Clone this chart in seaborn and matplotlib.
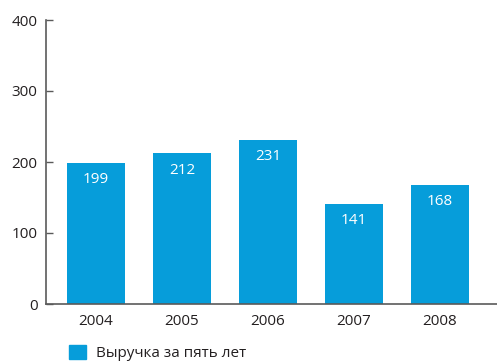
import matplotlib
matplotlib.use("Agg")
import matplotlib.pyplot as plt
import seaborn as sns
import pandas as pd

years = ["2004", "2005", "2006", "2007", "2008"]
revenue = [199, 212, 231, 141, 168]
series_name = "Выручка за пять лет"
y_ticks = [0, 100, 200, 300, 400]

sns.set_style("white")
plt.rcParams["font.family"] = ["Open Sans", "DejaVu Sans"]

bar_color = "#069DDA"
axis_color = "#5a5a5a"
text_color = "#231f20"

df = pd.DataFrame({"year": years, "revenue": revenue})

fig = plt.figure(figsize=(4.97, 3.63), dpi=100)
ax = fig.add_axes([46 / 497, 59 / 363, 451 / 497, 284 / 363])

sns.barplot(data=df, x="year", y="revenue", color=bar_color, width=0.674,
            saturation=1, linewidth=0, ax=ax, legend=False)

for i, v in enumerate(revenue):
    ax.annotate(str(v), (i, v), xytext=(0, -12), textcoords="offset points",
                ha="center", va="center", color="white", fontsize=11)

ax.set_ylim(0, 400)
ax.set_xlim(-0.581, 4.663)
ax.set_yticks(y_ticks)
ax.set_xlabel("")
ax.set_ylabel("")

for side in ("top", "right"):
    ax.spines[side].set_visible(False)
for side in ("left", "bottom"):
    ax.spines[side].set_color(axis_color)
    ax.spines[side].set_linewidth(1.2)

ax.tick_params(axis="y", direction="in", length=5, width=1, color=axis_color,
               labelsize=11, labelcolor=text_color, pad=6, left=True)
ax.tick_params(axis="x", length=0, labelsize=11, labelcolor=text_color, pad=7)

handles = [plt.Rectangle((0, 0), 1, 1, color=bar_color)]
fig.legend(handles, [series_name], loc="center left",
           bbox_to_anchor=(55 / 497, 1 - 353 / 363), frameon=False,
           handlelength=1.1, handleheight=1.1, handletextpad=0.7,
           fontsize=11, labelcolor=text_color)

fig.savefig("out.png", dpi=100)
